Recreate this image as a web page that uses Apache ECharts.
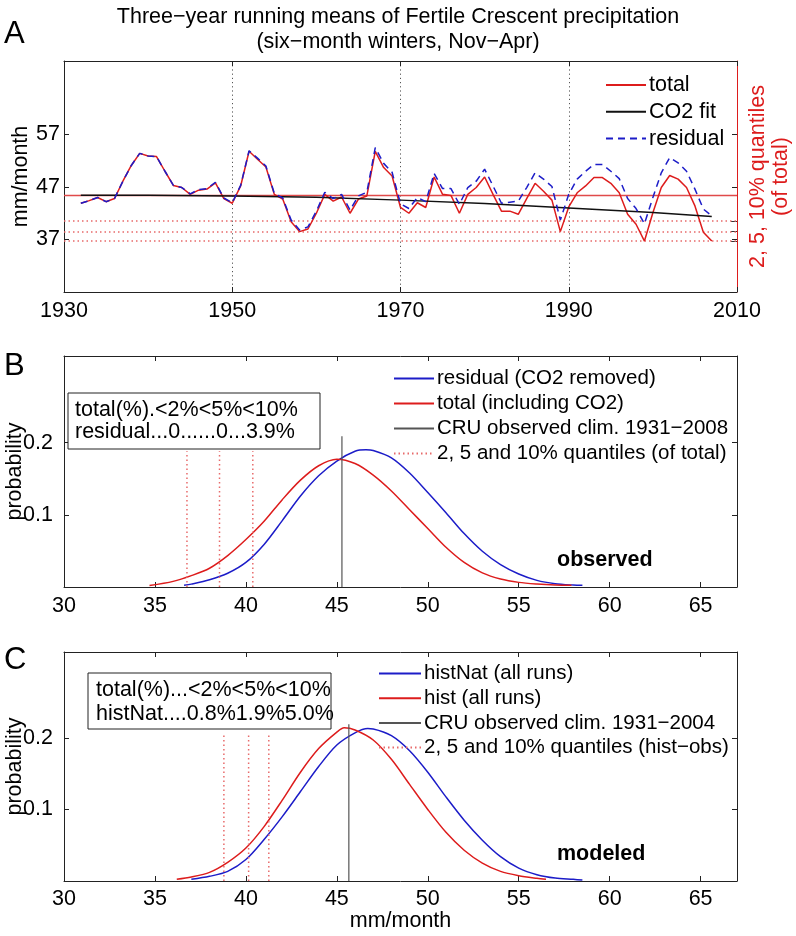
<!DOCTYPE html>
<html><head><meta charset="utf-8">
<script src="https://cdn.jsdelivr.net/npm/echarts@6/dist/echarts.min.js"></script>
<style>html,body{margin:0;padding:0;background:#fff}#c{width:796px;height:936px}</style>
</head><body><div id="c"></div>
<script>
// ---------- Panel A data ----------
const years = [1932,1933,1934,1935,1936,1937,1938,1939,1940,1941,1942,1943,1944,1945,1946,1947,1948,1949,1950,
  1951,1952,1953,1954,1955,1956,1957,1958,1959,1960,1961,1962,1963,1964,1965,1966,1967,1968,1969,1970,
  1971,1972,1973,1974,1975,1976,1977,1978,1979,1980,1981,1982,1983,1984,1985,1986,1987,1988,1989,1990,
  1991,1992,1993,1994,1995,1996,1997,1998,1999,2000,2001,2002,2003,2004,2005,2006,2007];
const totalA = [43.9,44.4,45.0,44.2,44.8,48.1,51.1,53.4,52.9,52.8,50.0,47.3,46.9,45.6,46.4,46.6,47.8,44.8,43.9,
  47.2,53.8,52.3,50.8,45.6,44.7,40.4,38.5,39.0,42.0,45.6,44.3,45.1,42.0,44.7,45.3,53.8,50.7,49.1,43.1,
  42.0,44.0,43.1,48.9,45.6,45.4,42.0,45.6,46.9,48.9,45.6,42.4,42.4,41.8,44.8,47.7,46.2,44.5,38.5,43.2,
  45.9,47.2,48.8,48.8,47.7,45.9,41.8,39.9,36.7,42.1,46.9,49.2,48.5,46.9,43.4,38.4,36.7];
const residualA = [43.9,44.4,45.0,44.2,44.8,48.1,51.1,53.4,52.9,52.8,50.0,47.3,46.9,45.7,46.5,46.7,47.9,44.9,44.0,
  47.3,53.9,52.5,51.0,45.8,44.9,40.7,38.8,39.4,42.4,46.0,44.8,45.6,42.6,45.3,46.0,54.5,51.5,49.8,43.8,
  42.9,45.0,44.2,49.6,46.7,46.7,43.7,46.9,48.1,50.4,47.2,43.9,44.1,44.3,46.9,49.7,48.5,47.1,40.7,45.6,
  48.5,50.0,51.3,51.3,50.0,48.6,44.8,42.9,40.0,45.0,49.7,52.6,51.6,50.0,46.6,42.8,41.5];
const fitYears = [1932,1940,1950,1960,1970,1980,1990,2000,2007];
const fitA = [45.45,45.42,45.30,45.05,44.50,43.85,43.00,42.15,41.40];
const meanA = 45.42;
const quantA = [36.73, 38.50, 40.48];
const mmTicksA = [37, 47, 57];

// ---------- Panel B data (observed) ----------
const bResidX = [36.6,37,38,39,40,41,42,43,44,45,46,46.6,47,48,49,50,51,52,53,54,55,56,57,58,58.5];
const bResidY = [0.0023,0.004,0.010,0.019,0.034,0.059,0.092,0.126,0.154,0.1745,0.188,0.190,0.189,0.179,0.158,0.131,0.103,0.074,0.0495,0.031,0.018,0.0092,0.0046,0.0027,0.0023];
const bTotalX = [34.7,36,37,38,39,40,41,42,43,44,45,46,47,48,49,50,51,52,53,54,55,56,57,57.9];
const bTotalY = [0.002,0.0078,0.0157,0.026,0.0435,0.0657,0.091,0.121,0.148,0.168,0.177,0.171,0.155,0.133,0.107,0.081,0.055,0.034,0.0195,0.011,0.0064,0.0041,0.0027,0.0023];
const quantB = [36.76, 38.55, 40.38];
const quantTopB = 0.188;
const cruB = 45.28, cruTopB = 0.209;
const boxB = ['total(%).<2%<5%<10%', 'residual...0......0...3.9%'];

// ---------- Panel C data (modeled) ----------
const cNatX = [37.0,38,39,40,41,42,43,44,45,46,46.7,47,48,49,50,51,52,53,54,55,56,57,58,58.5];
const cNatY = [0.0023,0.0065,0.0135,0.030,0.058,0.090,0.125,0.160,0.190,0.207,0.213,0.2125,0.203,0.182,0.152,0.1175,0.085,0.057,0.034,0.018,0.0088,0.0041,0.0023,0.0013];
const cHistX = [36.2,37,38,39,40,41,42,43,44,45,45.4,46,47,48,49,50,51,52,53,54,55,56,56.5];
const cHistY = [0.0023,0.0055,0.012,0.026,0.046,0.076,0.113,0.152,0.185,0.208,0.214,0.211,0.197,0.170,0.135,0.100,0.068,0.043,0.025,0.0134,0.0074,0.0037,0.0023];
const quantC = [38.79, 40.15, 41.26];
const quantTopC = 0.205;
const cruC = 45.66, cruTopC = 0.219;
const boxC = ['total(%)...<2%<5%<10%', 'histNat....0.8%1.9%5.0%'];
const probTicks = [0.1, 0.2];

// ---------- styling ----------
const FONT = "'Liberation Sans', Arial, Helvetica, sans-serif";
const FS = 21.5;
const RED = '#dd1c1c', BLUE = '#1c1cc8', BLACK = '#111', AX = '#222';
const QCOL = '#e86a6a', MEANCOL = '#e04a4a';
const QDASH = [1.5, 3];
const pairs = (xs, ys) => xs.map((x, i) => [x, ys[i]]);
const txt = (size, extra) => Object.assign({fontSize: size, fontFamily: FONT, color: '#000'}, extra || {});

function xAx(gi, pos, opts) {
  return Object.assign({
    gridIndex: gi, type: 'value', position: pos,
    axisLine: {show: true, onZero: false, lineStyle: {color: AX, width: 1}},
    axisTick: {show: true, inside: true, length: 5, lineStyle: {color: AX}},
    axisLabel: pos === 'bottom' ? Object.assign(txt(FS), {margin: 8, formatter: v => String(v)}) : {show: false},
    splitLine: {show: false}, nameMoveOverlap: false
  }, opts);
}
function yAx(gi, pos, opts) {
  return Object.assign({
    gridIndex: gi, type: 'value', position: pos,
    axisLine: {show: true, onZero: false, lineStyle: {color: AX, width: 1}},
    axisTick: {show: true, inside: true, length: 5, lineStyle: {color: AX}},
    axisLabel: {show: false},
    splitLine: {show: false}, nameMoveOverlap: false
  }, opts);
}
const hideOff5 = v => (Math.abs(v % 5) < 1e-9 ? String(v) : '');

const xAxis = [
  xAx(0, 'bottom', {min: 1930, max: 2010, interval: 20,
    splitLine: {show: true, lineStyle: {color: '#555', width: 1, type: [1.2, 3]}}}),
  xAx(0, 'top', {min: 1930, max: 2010, interval: 20}),
  xAx(1, 'bottom', {min: 30, max: 67, interval: 5,
    axisLabel: Object.assign(txt(FS), {margin: 8, formatter: hideOff5, showMaxLabel: false})}),
  xAx(1, 'top', {min: 30, max: 67, interval: 5}),
  xAx(2, 'bottom', {min: 30, max: 67, interval: 5,
    axisLabel: Object.assign(txt(FS), {margin: 7, formatter: hideOff5, showMaxLabel: false}),
    name: 'mm/month', nameLocation: 'middle', nameGap: 29, nameTextStyle: txt(FS)}),
  xAx(2, 'top', {min: 30, max: 67, interval: 5})
];

const yAxis = [
  yAx(0, 'left', {min: 27, max: 71,
    axisTick: {show: true, inside: true, length: 5, lineStyle: {color: AX}, customValues: mmTicksA},
    axisLabel: Object.assign(txt(FS), {show: true, margin: 4, customValues: mmTicksA}),
    name: 'mm/month', nameLocation: 'middle', nameGap: 32, nameRotate: 90, nameTextStyle: txt(FS)}),
  yAx(0, 'right', {min: 27, max: 71,
    axisLine: {show: true, onZero: false, lineStyle: {color: RED, width: 1}},
    axisTick: {show: true, inside: true, length: 6, lineStyle: {color: '#333'}, customValues: quantA},
    name: '2, 5, 10% quantiles\n(of total)', nameLocation: 'middle', nameGap: 10, nameRotate: 90,
    nameTextStyle: txt(FS, {color: RED, lineHeight: 23})}),
  yAx(0, 'right', {min: 27, max: 71, axisLine: {show: false},
    axisTick: {show: true, inside: true, length: 5, lineStyle: {color: AX}, customValues: mmTicksA}}),
  yAx(1, 'left', {min: 0, max: 0.32,
    axisTick: {show: true, inside: true, length: 5, lineStyle: {color: AX}, customValues: probTicks},
    axisLabel: Object.assign(txt(FS), {show: true, margin: 11, customValues: probTicks, formatter: v => v.toFixed(1)}),
    name: 'probability', nameLocation: 'middle', nameGap: 38, nameRotate: 90, nameTextStyle: txt(FS)}),
  yAx(1, 'right', {min: 0, max: 0.32,
    axisTick: {show: true, inside: true, length: 5, lineStyle: {color: AX}, customValues: probTicks}}),
  yAx(2, 'left', {min: 0, max: 0.32,
    axisTick: {show: true, inside: true, length: 5, lineStyle: {color: AX}, customValues: probTicks},
    axisLabel: Object.assign(txt(FS), {show: true, margin: 11, customValues: probTicks, formatter: v => v.toFixed(1)}),
    name: 'probability', nameLocation: 'middle', nameGap: 38, nameRotate: 90, nameTextStyle: txt(FS)}),
  yAx(2, 'right', {min: 0, max: 0.32,
    axisTick: {show: true, inside: true, length: 5, lineStyle: {color: AX}, customValues: probTicks}})
];

function lineS(name, xi, yi, data, color, width, type, extra) {
  return Object.assign({
    name: name, type: 'line', xAxisIndex: xi, yAxisIndex: yi, data: data,
    symbol: 'none', showSymbol: false, silent: true,
    lineStyle: {color: color, width: width, type: type || 'solid'},
    itemStyle: {color: color}
  }, extra || {});
}
const series = [
  lineS('total', 0, 0, pairs(years, totalA), RED, 1.5, 'solid', {
    markLine: {silent: true, symbol: 'none', label: {show: false}, animation: false, z: 1,
      lineStyle: {color: MEANCOL, width: 1.4, type: 'solid', opacity: 1},
      data: [{yAxis: meanA, lineStyle: {color: MEANCOL, width: 1.4, type: 'solid', opacity: 1}}]
        .concat(quantA.map(q => ({yAxis: q, lineStyle: {color: QCOL, width: 1.5, type: QDASH, opacity: 1}})))}
  }),
  lineS('CO2 fit', 0, 0, pairs(fitYears, fitA), BLACK, 1.5),
  lineS('residual', 0, 0, pairs(years, residualA), BLUE, 1.5, [7, 5]),

  lineS('residual (CO2 removed)', 2, 3, pairs(bResidX, bResidY), BLUE, 1.5, 'solid', {smooth: 0.3}),
  lineS('total (including CO2)', 2, 3, pairs(bTotalX, bTotalY), RED, 1.5, 'solid', {smooth: 0.3}),
  lineS('CRU observed clim. 1931\u22122008', 2, 3, [[cruB, 0], [cruB, cruTopB]], '#555', 1.2),
].concat(quantB.map(q => lineS('2, 5 and 10% quantiles (of total)', 2, 3, [[q, 0], [q, quantTopB]], QCOL, 1.5, QDASH)))
.concat([
  lineS('histNat (all runs)', 4, 5, pairs(cNatX, cNatY), BLUE, 1.5, 'solid', {smooth: 0.3}),
  lineS('hist (all runs)', 4, 5, pairs(cHistX, cHistY), RED, 1.5, 'solid', {smooth: 0.3}),
  lineS('CRU observed clim. 1931\u22122004', 4, 5, [[cruC, 0], [cruC, cruTopC]], '#555', 1.2),
]).concat(quantC.map(q => lineS('2, 5 and 10% quantiles (hist\u2212obs)', 4, 5, [[q, 0], [q, quantTopC]], QCOL, 1.5, QDASH)));

function legend(names, left, top, gap, w, fs) {
  return {data: names, orient: 'vertical', left: left, top: top, itemWidth: w, itemHeight: 12,
    itemGap: gap, selectedMode: false, padding: 0,
    itemStyle: {opacity: 0, borderWidth: 0},
    textStyle: txt(fs, {padding: [0, 0, 0, -2]})};
}

function gtext(text, x, y, size, extra) {
  return {type: 'text', x: x, y: y, silent: true,
    style: Object.assign({text: text, fontSize: size, fontFamily: FONT, fill: '#000',
      textVerticalAlign: 'middle', verticalAlign: 'middle', textAlign: 'left', align: 'left'}, extra || {})};
}

const option = {
  animation: false,
  backgroundColor: '#fff',
  title: [{text: 'Three\u2212year running means of Fertile Crescent precipitation\n(six\u2212month winters, Nov\u2212Apr)',
    left: 'center', top: 0,
    textStyle: txt(FS, {fontWeight: 'normal', lineHeight: 25})}],
  grid: [
    {left: 64, top: 61, width: 673, height: 231, containLabel: false, outerBoundsMode: 'none'},
    {left: 64, top: 356, width: 673, height: 231, containLabel: false, outerBoundsMode: 'none'},
    {left: 64, top: 652, width: 673, height: 229, containLabel: false, outerBoundsMode: 'none'}
  ],
  xAxis: xAxis,
  yAxis: yAxis,
  legend: [
    legend(['total', 'CO2 fit', 'residual'], 605, 74, 4.8, 40, FS),
    legend(['residual (CO2 removed)', 'total (including CO2)', 'CRU observed clim. 1931\u22122008', '2, 5 and 10% quantiles (of total)'], 393, 368, 4, 40, 20.5),
    legend(['histNat (all runs)', 'hist (all runs)', 'CRU observed clim. 1931\u22122004', '2, 5 and 10% quantiles (hist\u2212obs)'], 378, 663, 3.7, 42, 20.5)
  ],
  series: series,
  graphic: [
    gtext('A', 4, 34, 31),
    gtext('B', 4, 366, 31),
    gtext('C', 4, 660, 31),
    {type: 'rect', shape: {x: 68, y: 393, width: 252, height: 56}, style: {fill: '#fff', stroke: '#222', lineWidth: 1}, z: 10},
    Object.assign(gtext(boxB[0], 75, 410, FS), {z: 11}),
    Object.assign(gtext(boxB[1], 75, 432, FS), {z: 11}),
    {type: 'rect', shape: {x: 88, y: 673, width: 243, height: 56}, style: {fill: '#fff', stroke: '#222', lineWidth: 1}, z: 10},
    Object.assign(gtext(boxC[0], 96, 690, FS), {z: 11}),
    Object.assign(gtext(boxC[1], 96, 714, FS), {z: 11}),
    gtext('observed', 557, 560, FS, {fontWeight: 'bold'}),
    gtext('modeled', 557, 854, FS, {fontWeight: 'bold'})
  ]
};

const chart = echarts.init(document.getElementById('c'), null, {renderer: 'canvas'});
chart.setOption(option);
</script>
</body></html>
